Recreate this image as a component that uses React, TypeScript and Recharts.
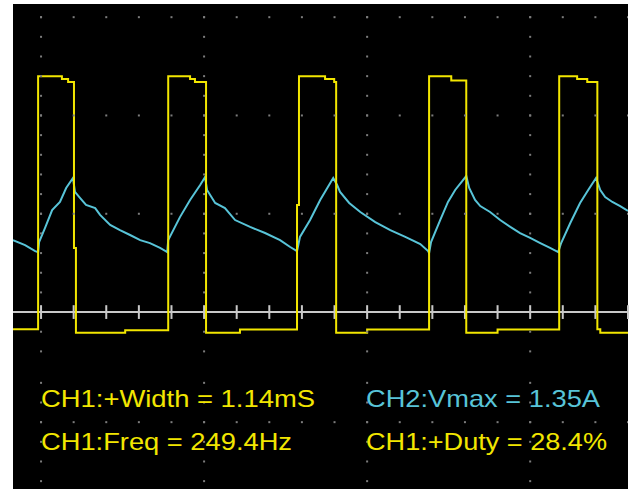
import { ComposedChart, Line, ReferenceLine, Scatter, XAxis, YAxis } from 'recharts';

// x in ms (one minor graticule step = 1 ms), y in minor graticule steps, white baseline = 0
const timeDomain = [-0.86, 18.0];
const levelDomain = [-9.0, 15.67];

const minorTimes = [0, 1, 2, 3, 4, 5, 6, 7, 8, 9, 10, 11, 12, 13, 14, 15, 16, 17, 18];
const majorTimes = [0, 5, 10, 15];
const majorLevels = [15, 10, 5, -5.6];
const columnLevels = [15, 14, 13, 12, 11, 10, 9, 8, 7, 6, 5, 4, 3, 2, 1, -1, -2, -3.6, -4.6, -5.6, -6.6, -7.6, -8.6];

// CH1 (yellow) gate pulse
const ch1Time = [
  -0.86, -0.09, -0.09, 0.64, 0.64, 0.83, 0.83, 1.01, 1.01, 1.07, 1.07, 2.58, 2.58,
  3.9, 3.9, 4.57, 4.57, 4.72, 4.72, 5.06, 5.06, 6.1, 6.1,
  7.85, 7.85, 7.91, 7.91, 8.71, 8.71, 8.99, 8.99, 9.05, 9.05, 10.0, 10.0,
  11.9, 11.9, 12.58, 12.58, 13.04, 13.04, 14.0, 14.0,
  15.89, 15.89, 16.44, 16.44, 16.75, 16.75, 17.06, 17.06, 17.15, 17.15, 18.0,
];
const ch1Level = [
  -0.87, -0.87, 12, 12, 11.85, 11.85, 11.7, 11.7, 3.26, 3.26, -1.05, -1.05, -0.93,
  -0.93, 12, 12, 11.85, 11.85, 11.7, 11.7, -1.05, -1.05, -0.89,
  -0.89, 5.44, 5.44, 12, 12, 11.85, 11.85, 11.7, 11.7, -1.05, -1.05, -0.89,
  -0.89, 12, 12, 11.78, 11.78, -1.05, -1.05, -0.89,
  -0.89, 12, 12, 11.85, 11.85, 11.7, 11.7, -0.87, -0.87, -1.05, -1.05,
];

// CH2 (cyan) inductor current
const ch2Time = [
  -0.86, -0.49, -0.18, -0.09, -0.06, 0.12, 0.34, 0.58, 0.77, 0.98, 1.04, 1.2, 1.38, 1.66, 1.81, 2.12, 2.42, 2.73, 3.04, 3.34, 3.65, 3.87,
  3.9, 4.26, 4.57, 4.88, 5.03, 5.09, 5.34, 5.64, 5.95, 6.41, 6.87, 7.33, 7.64, 7.85,
  7.94, 8.25, 8.56, 8.96, 9.08, 9.17, 9.45, 9.79, 10.25, 10.71, 11.17, 11.63, 11.87,
  11.9, 11.96, 12.24, 12.48, 12.7, 13.04, 13.13, 13.31, 13.47, 13.77, 14.08, 14.39, 14.69, 15.0, 15.31, 15.61, 15.86,
  15.95, 16.23, 16.53, 16.78, 17.02, 17.15, 17.3, 17.52, 17.76, 18.0,
];
const ch2Level = [
  3.66, 3.41, 3.1, 3.05, 3.56, 4.27, 5.19, 5.6, 6.31, 6.82, 6.11, 5.8, 5.45, 5.29, 4.94, 4.43, 4.17, 3.92, 3.66, 3.51, 3.26, 3.05,
  3.66, 4.83, 5.7, 6.46, 6.87, 6.21, 5.55, 5.29, 4.68, 4.33, 4.02, 3.66, 3.31, 3.1,
  3.82, 4.68, 5.7, 6.82, 6.46, 6.11, 5.55, 5.09, 4.58, 4.17, 3.82, 3.46, 3.1,
  3.0, 3.56, 4.68, 5.6, 6.21, 6.92, 6.31, 5.7, 5.39, 5.09, 4.68, 4.33, 4.02, 3.77, 3.51, 3.26, 3.05,
  3.51, 4.53, 5.55, 6.21, 6.82, 6.21, 5.85, 5.6, 5.39, 5.14,
];

const readouts = ['CH1:+Width = 1.14mS', 'CH2:Vmax = 1.35A', 'CH1:Freq = 249.4Hz', 'CH1:+Duty = 28.4%'];

const ch1 = ch1Time.map((t, i) => ({ t, v: ch1Level[i] }));
const ch2 = ch2Time.map((t, i) => ({ t, v: ch2Level[i] }));
const graticule = [
  ...majorTimes.flatMap((t) => columnLevels.map((v) => ({ t, v }))),
  ...majorLevels.flatMap((v) => minorTimes.map((t) => ({ t, v }))),
];

const GridDot = (props: any) => (
  <rect x={props.cx - 1} y={props.cy - 1} width={2} height={2} fill="#7c7c7c" />
);

const YELLOW = '#f2e600';
const CYAN = '#58c4d8';

export default function App() {
  return (
    <div style={{ position: 'absolute', left: 0, top: 0, width: 631, height: 489, background: '#fff' }}>
      <div style={{ position: 'absolute', left: 13, top: 4, width: 615, height: 485, background: '#000' }} />
      <div style={{ position: 'absolute', left: 0, top: 0 }}>
        <ComposedChart width={631} height={489} margin={{ top: 4, right: 3, bottom: 0, left: 13 }}>
          <XAxis dataKey="t" type="number" domain={timeDomain} allowDataOverflow hide />
          <YAxis dataKey="v" type="number" domain={levelDomain} allowDataOverflow hide />
          <Scatter data={graticule} dataKey="v" shape={GridDot} isAnimationActive={false} />
          <ReferenceLine y={0} stroke="#c8c8c8" strokeWidth={2} />
          {minorTimes.map((t) => (
            <ReferenceLine
              key={t}
              segment={[{ x: t, y: -0.35 }, { x: t, y: 0.35 }]}
              stroke="#c8c8c8"
              strokeWidth={2}
            />
          ))}
          <Line data={ch2} dataKey="v" type="linear" stroke={CYAN} strokeWidth={2} dot={false} isAnimationActive={false} />
          <Line data={ch1} dataKey="v" type="linear" stroke={YELLOW} strokeWidth={2} dot={false} isAnimationActive={false} />
        </ComposedChart>
      </div>
      <svg width={631} height={489} style={{ position: 'absolute', left: 0, top: 0, pointerEvents: 'none' }}>
        <g fontFamily="'Liberation Sans', Arial, sans-serif" fontSize={24}>
          <text x={41} y={407} fill={YELLOW} textLength={274} lengthAdjust="spacingAndGlyphs">{readouts[0]}</text>
          <text x={366} y={407} fill={CYAN} textLength={234} lengthAdjust="spacingAndGlyphs">{readouts[1]}</text>
          <text x={41} y={450} fill={YELLOW} textLength={251} lengthAdjust="spacingAndGlyphs">{readouts[2]}</text>
          <text x={366} y={450} fill={YELLOW} textLength={241} lengthAdjust="spacingAndGlyphs">{readouts[3]}</text>
        </g>
      </svg>
    </div>
  );
}
